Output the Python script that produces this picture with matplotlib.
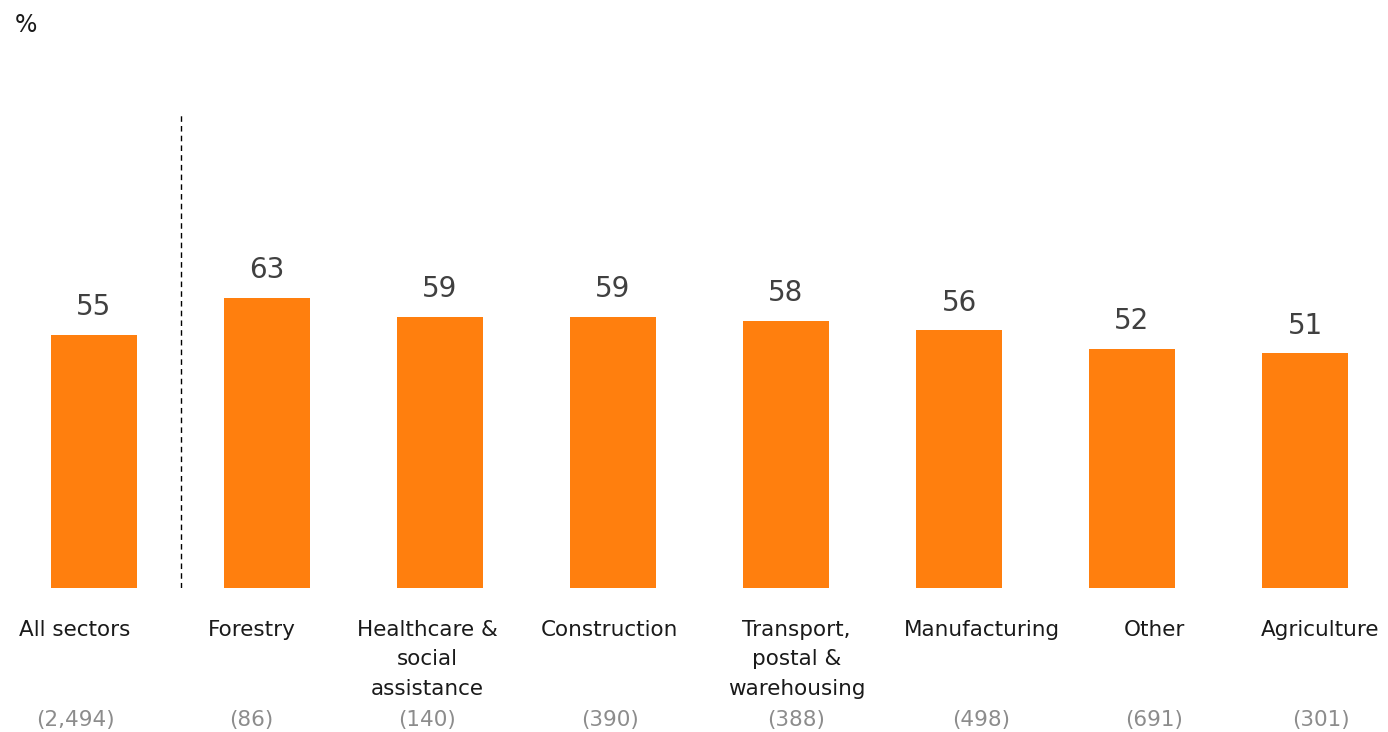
import numpy as np
import matplotlib.pyplot as plt

plt.rcParams['font.family'] = ['DejaVu Sans']

categories = ["All sectors", "Forestry", "Healthcare &\nsocial\nassistance", "Construction",
              "Transport,\npostal &\nwarehousing", "Manufacturing", "Other", "Agriculture"]
values = [55, 63, 59, 59, 58, 56, 52, 51]
counts = ["(2,494)", "(86)", "(140)", "(390)", "(388)", "(498)", "(691)", "(301)"]

# labels in the original sit a bit off the bar centres
label_shift = [-0.11, -0.09, -0.075, -0.02, 0.06, 0.13, 0.13, 0.09]

orange = "#FF7F0E"

fig = plt.figure(figsize=(13.88, 7.32), dpi=100)
ax = fig.add_axes([0, 144 / 732, 1, 588 / 732])

x = np.arange(len(values))
ax.bar(x, values, width=0.5, color=orange)
ax.set_xlim(-94 / 173, -94 / 173 + 1388 / 173)
ax.set_ylim(0, 588 / 4.6)
ax.axis('off')

for xi, v in zip(x, values):
    ax.text(xi, v + 3, str(v), ha='center', va='bottom', fontsize=20, color='#404040')

for xi, lab, cnt, s in zip(x, categories, counts, label_shift):
    ax.text(xi + s, -7.0, lab, ha='center', va='top', fontsize=15.5,
            color='#1a1a1a', linespacing=1.58, clip_on=False)
    ax.text(xi + s, -26.5, cnt, ha='center', va='top', fontsize=15.5,
            color='#8c8c8c', clip_on=False)

ax.plot([0.5, 0.5], [0, 102.8], color='black', lw=1, linestyle=(0, (4, 3)))

fig.text(15 / 1388, 1 - 25 / 732, "%", fontsize=17, va='center', ha='left', color='#1a1a1a')

fig.savefig("out.png", dpi=100)
